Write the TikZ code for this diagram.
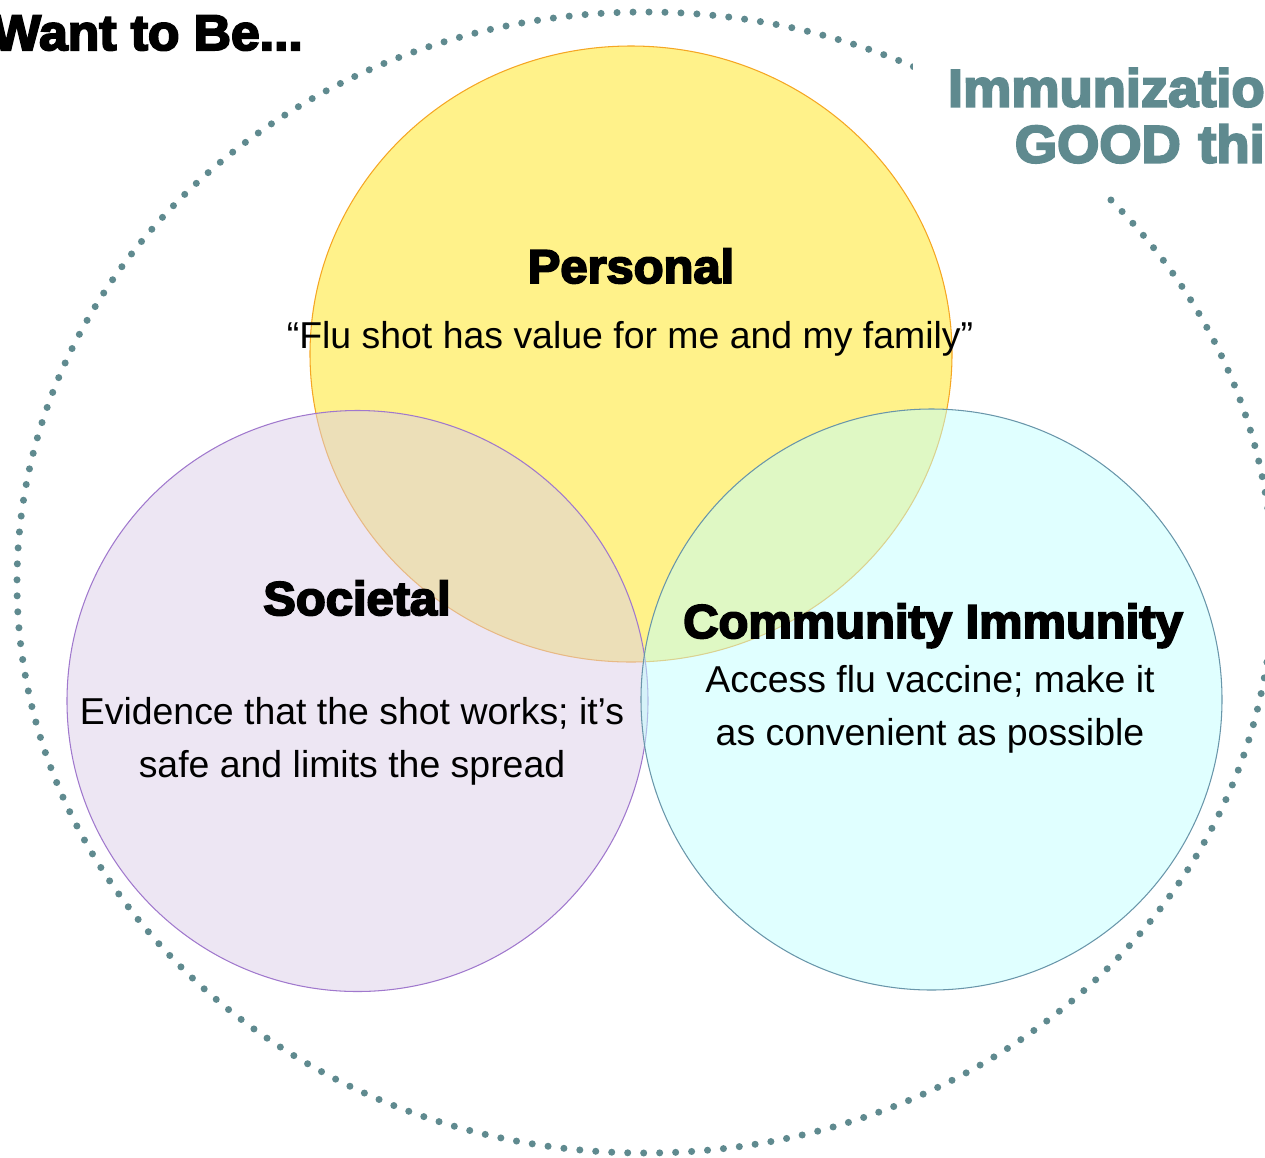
\documentclass[tikz,border=0pt]{standalone}
\usepackage{fontspec}
\setmainfont{Liberation Sans}
\newfontfamily\heavyfont{Liberation Sans}[BoldFeatures={FakeBold=4,FakeStretch=1.03}]
\definecolor{ringteal}{RGB}{95,138,143}
\definecolor{venyellow}{RGB}{255,242,138}
\definecolor{venorange}{RGB}{245,166,35}
\definecolor{venpurple}{RGB}{219,205,231}
\definecolor{venpurpleline}{RGB}{160,120,205}
\definecolor{vencyan}{RGB}{193,255,255}
\definecolor{vencyanline}{RGB}{105,150,170}

\begin{document}
\begin{tikzpicture}[x=0.02cm,y=-0.02cm]
\tikzstyle{heading} = [font=\heavyfont\bfseries\fontsize{27}{30}\selectfont,anchor=base,inner sep=0pt]
\tikzstyle{body} = [font=\fontsize{21.3}{30}\selectfont,align=center,anchor=base,inner sep=0pt]
\tikzstyle{bubble} = [line width=0.6pt,fill opacity=.5]

\useasboundingbox (0,0) rectangle (1265,1157);

% dotted ring
\draw[ringteal,line width=4pt,line cap=round,dash pattern=on 0pt off 9.1pt] (645,582.5) ellipse (628 and 570.5);

% the three circles
\filldraw[bubble,fill=venyellow,fill opacity=1,draw=venorange] (631,354) ellipse (321 and 308);
\filldraw[bubble,fill=venpurple,draw=venpurpleline] (357.5,701) circle (290.5);
\filldraw[bubble,fill=vencyan,draw=vencyanline] (931.5,699.5) circle (290.5);

\node[heading,anchor=base west,font=\heavyfont\bfseries\fontsize{28.5}{30}\selectfont] (want) at (-8,50) {Want to Be...};
\node[heading,font=\heavyfont\bfseries\fontsize{30}{31.9}\selectfont,text=ringteal,fill=white,align=right,text width=7.04cm,inner xsep=0pt,inner ysep=18pt,anchor=south east] (good) at (1265,195) {Immunizatio\\GOOD thi};

\node[heading] (personal) at (631,283) {Personal};
\node[body] (personaltxt) at (630,348) {“Flu shot has value for me and my family”};
\node[heading] (societal) at (357,615) {Societal};
\node[body] (societaltxt) at (352,777) {Evidence that the shot works; it’s\\safe and limits the spread};
\node[heading] (community) at (933,638) {Community Immunity};
\node[body] (communitytxt) at (930,745) {Access flu vaccine; make it\\as convenient as possible};
\end{tikzpicture}
\end{document}
